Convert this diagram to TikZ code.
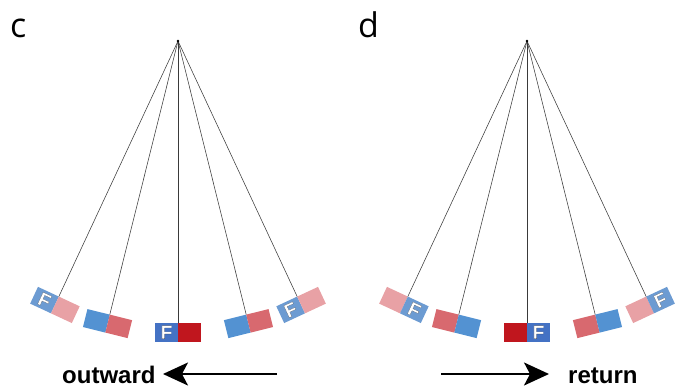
\documentclass[tikz,border=0pt]{standalone}
\usepackage{fontspec}
\setmainfont{Liberation Sans}
\newfontfamily\panelfont{Open Sans}
\usetikzlibrary{arrows.meta}

\definecolor{magBlueC}{HTML}{4472C4}
\definecolor{magRedC}{HTML}{C0161E}
\definecolor{magBlueM}{HTML}{5392D2}
\definecolor{magRedM}{HTML}{D8696F}
\definecolor{magBlueF}{HTML}{6C9BD2}
\definecolor{magRedF}{HTML}{E8A1A5}
\definecolor{strcol}{HTML}{3A3A3A}

\tikzset{
  string/.style={draw=strcol, line width=0.55pt},
  fglyph/.style={inner sep=0pt, text=white, font=\fontsize{19}{19}\selectfont\bfseries, transform shape},
  motion/.style={draw=black, line width=1.8pt,
    -{Stealth[length=25pt, width=23pt, inset=6pt]}},
  dirlabel/.style={inner sep=0pt, font=\fontsize{24}{24}\selectfont\bfseries},
  panellabel/.style={inner sep=0pt, font=\panelfont\fontsize{34}{34}\selectfont},
}

% outlined glyph: white fill with a dark stroke round it
% (the stroke width is given in text space, i.e. as a fraction of the font size)
\newcommand{\outlined}[1]{%
  \special{pdf:literal direct 2 Tr 0.085 w 1 j 0.2 0.2 0.22 RG}#1\special{pdf:literal direct 0 Tr}}

% string length and magnet size (pt)
\def\Len{282}
\def\halfw{23}
\def\mh{18.5}

% embossed "F" centred at x = #1 on the magnet
\newcommand{\Fmark}[1]{%
  \node[fglyph] at (#1, -\Len-\mh/2) {\outlined{F}};}

% \pendulum{pivot}{name}{angle}{left colour}{right colour}{extra drawing}
\newcommand{\pendulum}[6]{%
  \begin{scope}[shift={(#1)}, rotate=#3]
    \coordinate (#2) at (0,-\Len);
    \fill[#4] (-\halfw,-\Len) rectangle (0,-\Len-\mh);
    \fill[#5] (0,-\Len) rectangle (\halfw,-\Len-\mh);
    #6
  \end{scope}
  \draw[string] (#1) -- (#2);}

\begin{document}
\begin{tikzpicture}[x=1pt,y=1pt]
  \useasboundingbox (0,0) rectangle (686,389);

  % panel c
  \node[panellabel, anchor=base west] (labc) at (10,351) {c};
  \coordinate (pc) at (178,348);
  \pendulum{pc}{c1}{-25}{magBlueF}{magRedF}{\Fmark{-11.5}}
  \pendulum{pc}{c2}{-14}{magBlueM}{magRedM}{}
  \pendulum{pc}{c3}{0}{magBlueC}{magRedC}{\Fmark{-11.5}}
  \pendulum{pc}{c4}{14}{magBlueM}{magRedM}{}
  \pendulum{pc}{c5}{25}{magBlueF}{magRedF}{\Fmark{-11.5}}
  \fill[black] (pc) circle (1.4);

  % panel d
  \node[panellabel, anchor=base west] (labd) at (358,351) {d};
  \coordinate (pd) at (527,348);
  \pendulum{pd}{d1}{-25}{magRedF}{magBlueF}{\Fmark{11.5}}
  \pendulum{pd}{d2}{-14}{magRedM}{magBlueM}{}
  \pendulum{pd}{d3}{0}{magRedC}{magBlueC}{\Fmark{11.5}}
  \pendulum{pd}{d4}{14}{magRedM}{magBlueM}{}
  \pendulum{pd}{d5}{25}{magRedF}{magBlueF}{\Fmark{11.5}}
  \fill[black] (pd) circle (1.4);

  % direction of motion
  \node[dirlabel, anchor=base west] (outw) at (62,6) {outward};
  \coordinate (outTail) at (277,15);
  \coordinate (outTip) at (163,15);
  \draw[motion] (outTail) -- (outTip);

  \node[dirlabel, anchor=base west] (ret) at (568,6) {return};
  \coordinate (retTail) at (441,15);
  \coordinate (retTip) at (549,15);
  \draw[motion] (retTail) -- (retTip);
\end{tikzpicture}
\end{document}
